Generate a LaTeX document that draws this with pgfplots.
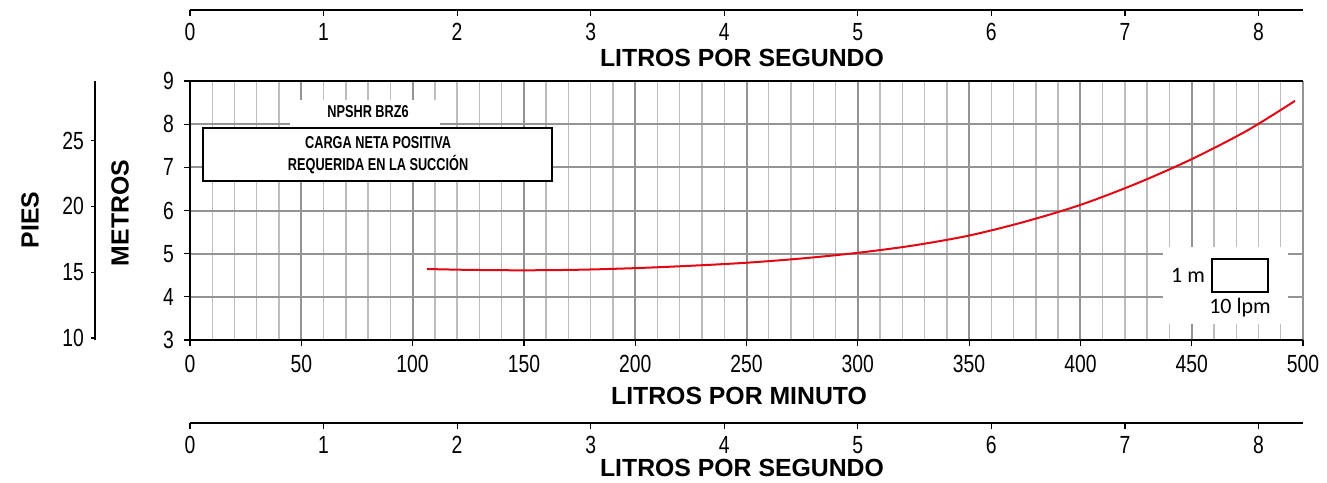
\documentclass[border=0pt]{standalone}
\usepackage{pgfplots}
\usepackage{pgfplotstable}
\pgfplotsset{compat=1.18}
\usepackage{fontspec}
\setmainfont{Liberation Sans}
\newfontfamily\condfont{Liberation Sans}[FakeStretch=0.78]
\newfontfamily\narrowfont{Liberation Sans}[FakeStretch=0.74]
\newfontfamily\carlito{Carlito}
\definecolor{curvered}{HTML}{E30613}

% NPSHR curve, metres vs litres per minute
\pgfplotstableread{
lpm   m
106.5 4.645
125   4.625
150   4.615
175   4.628
200   4.665
225   4.720
250   4.790
275   4.890
300   5.020
325   5.190
350   5.420
375   5.740
400   6.130
425   6.620
450   7.190
475   7.855
496.4 8.540
}\npshr

\tikzset{
  ticklbl/.style={font=\condfont\fontsize{12.4}{14}\selectfont},
  boldlbl/.style={font=\bfseries\fontsize{12.4}{14}\selectfont},
}

\begin{document}
\begin{tikzpicture}
\useasboundingbox (0,0) rectangle (663.5pt,-241pt);

% main chart
\begin{axis}[
  scale only axis, width=556.5pt, height=129.5pt,
  at={(95pt,-170pt)}, anchor=south west,
  xmin=0, xmax=500, ymin=3, ymax=9,
  xtick={0,50,...,500}, ytick={3,4,...,9},
  minor x tick num=4,
  grid=both,
  major grid style={draw=black!42, line width=1pt},
  minor grid style={draw=black!26, line width=0.7pt},
  axis x line*=bottom, axis y line*=left,
  axis line style={line width=1.2pt},
  tick align=outside, major tick length=3pt, minor tick length=0pt,
  tick style={black, line width=0.6pt},
  tick label style={ticklbl},
  xticklabel style={yshift=-1pt},
  yticklabel style={xshift=-1.5pt},
  /pgf/number format/assume math mode=true,
  clip=false,
]
\addplot[curvered, line width=1pt, smooth] table[x=lpm, y=m] {\npshr};
\draw[line width=1.2pt] (rel axis cs:0,1) -- (rel axis cs:1,1);
% title boxes
\fill[white] (axis cs:45,8.56) rectangle (axis cs:112.5,7.9);
\node[font=\narrowfont\bfseries\fontsize{8.6}{11}\selectfont] at (axis cs:80,8.30) {NPSHR BRZ6};
\draw[fill=white, line width=0.6pt] (axis cs:5.8,7.911) rectangle (axis cs:162.6,6.684);
\node[align=center, font=\narrowfont\bfseries\fontsize{8.6}{11}\selectfont] at (axis cs:84.5,7.28)
  {CARGA NETA POSITIVA\\REQUERIDA EN LA SUCCIÓN};
% scale key
\fill[white] (axis cs:437.2,5.155) rectangle (axis cs:493.4,3.371);
\draw[line width=0.6pt] (axis cs:459.1,4.877) rectangle (axis cs:484.3,4.112);
\node[anchor=east, font=\carlito\fontsize{11}{13}\selectfont, inner sep=1pt] at (axis cs:457,4.49) {1 m};
\node[font=\carlito\fontsize{11}{13}\selectfont] at (axis cs:471.7,3.76) {10 lpm};
\end{axis}

% feet scale
\begin{axis}[
  scale only axis, width=1pt, height=129.5pt,
  at={(47.5pt,-170pt)}, anchor=south west,
  xmin=0, xmax=1, ymin=9.8425, ymax=29.5276,
  hide x axis, axis y line*=left,
  ytick={10,15,20,25},
  axis line style={line width=0.6pt},
  tick align=outside, major tick length=2pt,
  tick style={black, line width=0.6pt},
  tick label style={ticklbl},
  /pgf/number format/assume math mode=true,
]
\end{axis}

% litres per second, top
\begin{axis}[
  scale only axis, width=556.5pt, height=1pt,
  at={(95pt,-5pt)}, anchor=south west,
  xmin=0, xmax=8.3333, ymin=0, ymax=1,
  hide y axis, axis x line*=bottom,
  xtick={0,...,8},
  axis line style={line width=0.6pt},
  tick align=outside, major tick length=3pt,
  tick style={black, line width=0.6pt},
  tick label style={ticklbl},
  /pgf/number format/assume math mode=true,
]
\end{axis}

% litres per second, bottom
\begin{axis}[
  scale only axis, width=556.5pt, height=1pt,
  at={(95pt,-211.5pt)}, anchor=south west,
  xmin=0, xmax=8.3333, ymin=0, ymax=1,
  hide y axis, axis x line*=bottom,
  xtick={0,...,8},
  axis line style={line width=0.6pt},
  tick align=outside, major tick length=3pt,
  tick style={black, line width=0.6pt},
  tick label style={ticklbl},
  /pgf/number format/assume math mode=true,
]
\end{axis}

% axis titles
\node[boldlbl] at (371pt,-29pt) {LITROS POR SEGUNDO};
\node[boldlbl] at (369.5pt,-198pt) {LITROS POR MINUTO};
\node[boldlbl] at (371pt,-234pt) {LITROS POR SEGUNDO};
\node[boldlbl, rotate=90] at (15pt,-110pt) {PIES};
\node[boldlbl, rotate=90] at (60pt,-106.5pt) {METROS};
\end{tikzpicture}
\end{document}
